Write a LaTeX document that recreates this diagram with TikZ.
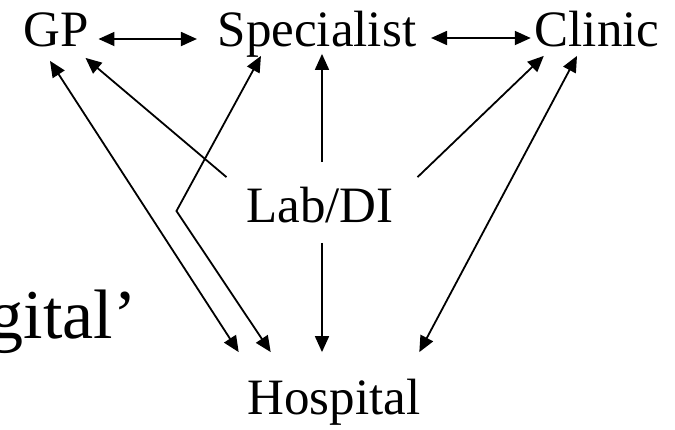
\documentclass[tikz,border=0pt]{standalone}
\usepackage{fontspec}
\setmainfont{Liberation Serif}
\usepackage{tikz}
\usetikzlibrary{positioning}
\usetikzlibrary{arrows.meta}

\begin{document}
\begin{tikzpicture}[x=1pt, y=1pt, line width=1.8pt,
  main/.style={inner sep=0pt, text height=34pt, text depth=0pt, font=\fontsize{51}{60}\selectfont},
  big/.style={inner sep=0pt, font=\fontsize{70}{80}\selectfont},
  ar/.style={-{Triangle[length=16pt,width=14pt]}},
  dar/.style={{Triangle[length=16pt,width=14pt]}-{Triangle[length=16pt,width=14pt]}}]
      \useasboundingbox (0,0) rectangle (675,-429);
      \node[main] (gp) at (56,-29) {GP};
      \node[main] (spec) [right of=gp, node distance=261pt]{Specialist};
      \node[main] (clinic) [right of=spec, node distance=280pt]{Clinic};
      \node[main] (lab) [below of=spec, node distance=176pt, xshift=3pt]{Lab/DI};
      \node[main] (hosp) [below of=lab, node distance=192pt, xshift=14pt]{Hospital};
      \node[big, anchor=base west] (word) at (-12,-338) {gital’};
      \coordinate (bend) at ([shift={(-69pt,-6pt)}]lab.west);

      \draw[dar] ([shift={(9pt,-10pt)}]gp.east) -- ([shift={(-20pt,-10pt)}]spec.west);
      \draw[dar] ([shift={(14pt,-9pt)}]spec.east) -- ([shift={(-3pt,-9pt)}]clinic.west);
      \draw[ar] ([shift={(-19pt,10pt)}]lab.north west) -- ([shift={(-4pt,-11pt)}]gp.south east);
      \draw[ar] ([shift={(2pt,25pt)}]lab.north) -- ([shift={(5pt,-7pt)}]spec.south);
      \draw[ar] ([shift={(23pt,10pt)}]lab.north east) -- ([shift={(10pt,-9pt)}]clinic.south west);
      \draw[ar] ([shift={(2pt,-20pt)}]lab.south) -- ([shift={(-12pt,27pt)}]hosp.north);
      \draw[dar] ([shift={(-6pt,-14pt)}]gp.south) -- ([shift={(-8pt,27pt)}]hosp.north west);
      \draw[dar] ([shift={(44pt,-9pt)}]spec.south west) -- (bend) -- ([shift={(24pt,27pt)}]hosp.north west);
      \draw[dar] ([shift={(-20pt,-9pt)}]clinic.south) -- ([shift={(-2pt,27pt)}]hosp.north east);
    \end{tikzpicture}
\end{document}
